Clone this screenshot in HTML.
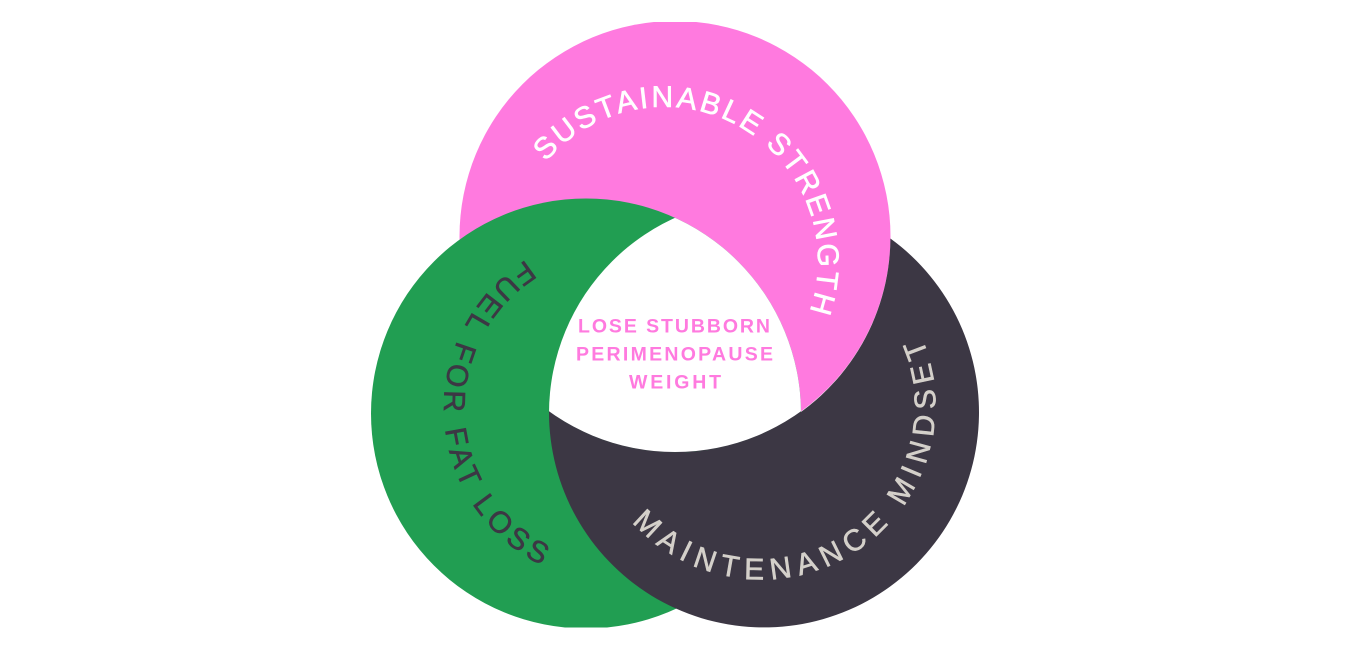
<!DOCTYPE html>
<html>
<head>
<meta charset="utf-8">
<style>
html,body{margin:0;padding:0;background:#fff;width:1350px;height:650px;overflow:hidden}
svg{display:block}
text{font-family:"Liberation Sans",sans-serif}
</style>
</head>
<body>
<svg width="1350" height="650" viewBox="0 0 1350 650" xmlns="http://www.w3.org/2000/svg">
<defs>
<clipPath id="page"><rect x="0" y="22" width="1350" height="605.5"/></clipPath>
<clipPath id="cPink"><circle cx="675" cy="236.5" r="215.5"/></clipPath>
<clipPath id="cGreen"><circle cx="586" cy="413.5" r="215"/></clipPath>
<path id="pPink" d="M546,162 A154,154 0 1 1 664,415"/>
<path id="pGreen" d="M526,260 A175,175 0 1 0 794,409"/>
<path id="pDark" d="M632,522 A174.2,174.2 0 1 0 761,231"/>
</defs>
<g clip-path="url(#page)">
<circle cx="675" cy="236.5" r="215.5" fill="#FF7ADF"/>
<circle cx="586" cy="413.5" r="215" fill="#219E52"/>
<path d="M890.4,238.5 A215,215 0 1 1 549,412 A215.5,215.5 0 0 0 890.4,238.5 Z" fill="#3C3744"/>
<g clip-path="url(#cGreen)">
<path d="M549,411.3 A215.5,215.5 0 0 0 801,411.3" fill="none" stroke="#3C3744" stroke-width="1.5"/>
</g>
<g clip-path="url(#cPink)">
<g clip-path="url(#cGreen)">
<circle cx="764" cy="413.5" r="215" fill="#fff"/>
</g>
</g>
</g>
<text font-size="30" fill="#fff" stroke="#fff" stroke-width=".6" letter-spacing="2.6"><textPath href="#pPink">SUSTAINABLE STRENGTH</textPath></text>
<text font-size="30" fill="#3C3744" stroke="#3C3744" stroke-width=".6" letter-spacing="4.7"><textPath href="#pGreen">FUEL FOR FAT LOSS</textPath></text>
<text font-size="30" fill="#D4D0CA" stroke="#D4D0CA" stroke-width=".6" letter-spacing="7"><textPath href="#pDark">MAINTENANCE MINDSET</textPath></text>
<g font-size="19.5" font-weight="bold" fill="#FF7ADF">
<text x="578" y="332.5" textLength="192" lengthAdjust="spacing">LOSE STUBBORN</text>
<text x="576" y="360.5" textLength="197" lengthAdjust="spacing">PERIMENOPAUSE</text>
<text x="629" y="388.5" textLength="92" lengthAdjust="spacing">WEIGHT</text>
</g>
</svg>
</body>
</html>
